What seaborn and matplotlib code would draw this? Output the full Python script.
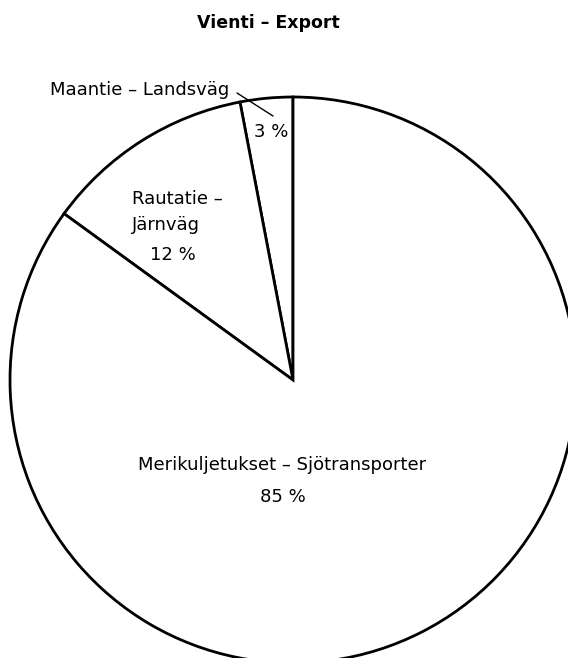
import numpy as np
import matplotlib.pyplot as plt
import seaborn as sns

sns.set_theme(style="white")
plt.rcParams['font.family'] = ['DejaVu Sans']
plt.rcParams['text.color'] = 'black'

# Data
modes = ["Maantie – Landsväg", "Rautatie –\nJärnväg", "Merikuljetukset – Sjötransporter"]
shares = [3, 12, 85]
pct_labels = ["3 %", "12 %", "85 %"]

H = 658
fig = plt.figure(figsize=(5.68, 6.58), dpi=100)
ax = fig.add_axes([0, 0, 1, 1])

# pie centre / radius in pixel units
cx, cy, r = 293, H - 380, 283
ax.pie(shares, startangle=90, counterclock=True, center=(cx, cy), radius=r,
       colors=['white'] * 3,
       wedgeprops=dict(edgecolor='black', linewidth=2.0), frame=True)
ax.set_xlim(0, 568)
ax.set_ylim(0, H)
ax.set_aspect('equal')
ax.axis('off')

fs = 13
ax.text(268, H - 23, "Vienti – Export", ha='center', va='center', fontsize=12.5, fontweight='bold')

# Maantie label with leader line
ax.text(229, H - 90, modes[0], ha='right', va='center', fontsize=fs, fontstretch='expanded')
ax.plot([237, 273], [H - 93, H - 116], color='black', lw=1)
ax.text(271, H - 132, pct_labels[0], ha='center', va='center', fontsize=fs)

# Rautatie
ax.text(132, H - 212, modes[1], ha='left', va='center', fontsize=fs, linespacing=1.5)
ax.text(173, H - 255, pct_labels[1], ha='center', va='center', fontsize=fs)

# Meri
ax.text(282, H - 465, modes[2], ha='center', va='center', fontsize=fs)
ax.text(283, H - 497, pct_labels[2], ha='center', va='center', fontsize=fs)

fig.savefig('out.png', dpi=100, facecolor='white')
